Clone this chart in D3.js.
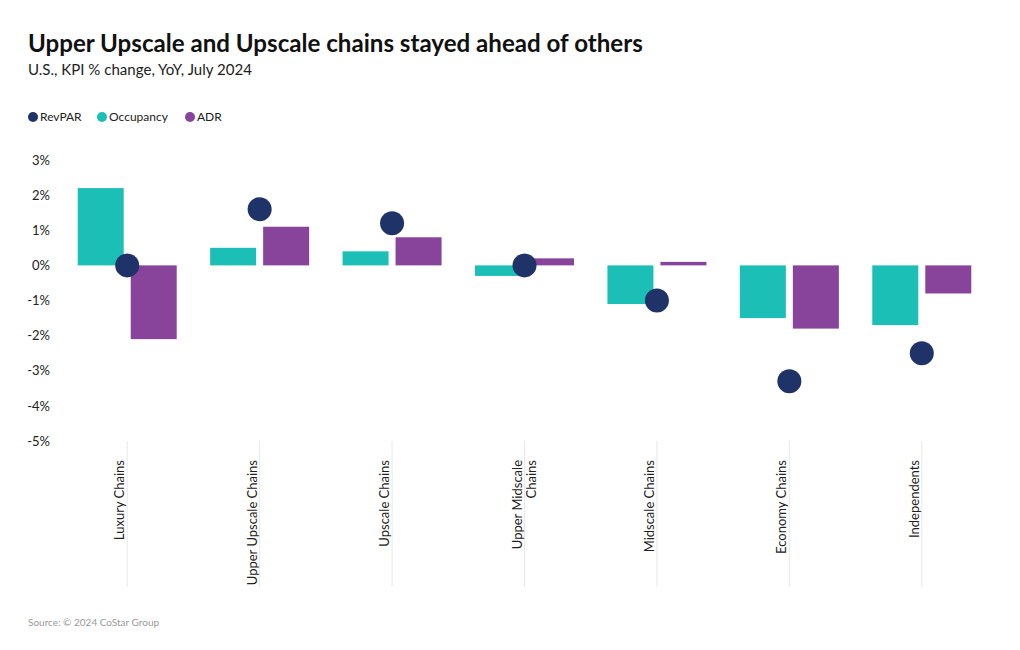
<!DOCTYPE html>
<html>
<head>
<meta charset="utf-8">
<script src="https://cdn.jsdelivr.net/npm/d3@7"></script>
<style>
  html, body { margin: 0; padding: 0; background: #fff; }
  svg { display: block; font-family: Lato, "Source Sans Pro", sans-serif; }
</style>
</head>
<body>
<svg id="chart" width="1020" height="650"></svg>
<script>
const categories = ["Luxury Chains", "Upper Upscale Chains", "Upscale Chains", "Upper Midscale Chains", "Midscale Chains", "Economy Chains", "Independents"];
const revpar    = [0.0, 1.6, 1.2, 0.0, -1.0, -3.3, -2.5];
const occupancy = [2.2, 0.5, 0.4, -0.3, -1.1, -1.5, -1.7];
const adr       = [-2.1, 1.1, 0.8, 0.2, 0.1, -1.8, -0.8];
const yTicks = [3, 2, 1, 0, -1, -2, -3, -4, -5];
const labelLines = [["Luxury Chains"], ["Upper Upscale Chains"], ["Upscale Chains"], ["Upper Midscale", "Chains"], ["Midscale Chains"], ["Economy Chains"], ["Independents"]];

const colors = { revpar: "#1f3368", occ: "#1bbfb5", adr: "#87449a" };

const svg = d3.select("#chart");

// Title
const title = svg.append("text").attr("x", 28).attr("y", 52)
  .attr("font-weight", 700).attr("font-size", 24).attr("fill", "#111")
  .text("Upper Upscale and Upscale chains stayed ahead of others");
const tw = title.node().getComputedTextLength();
title.attr("font-size", 24 * 615 / tw);

const sub = svg.append("text").attr("x", 28).attr("y", 75)
  .attr("font-size", 15).attr("fill", "#222")
  .text("U.S., KPI % change, YoY, July 2024");
const sw = sub.node().getComputedTextLength();
sub.attr("font-size", 15 * 224 / sw);

// Legend
const legend = [["RevPAR", colors.revpar, 33], ["Occupancy", colors.occ, 102], ["ADR", colors.adr, 190]];
legend.forEach(([name, c, x]) => {
  svg.append("circle").attr("cx", x).attr("cy", 117).attr("r", 5).attr("fill", c);
  svg.append("text").attr("x", x + 7).attr("y", 121).attr("font-size", 12).attr("fill", "#222").text(name);
});

// Scales
const y = d3.scaleLinear().domain([-5, 3]).range([441, 160]);
const x = d3.scaleBand().domain(categories).range([61, 988]).paddingInner(0).paddingOuter(0);
const barW = 46, gap = 7;

// Y axis labels
const yAxis = d3.axisLeft(y).tickValues(yTicks).tickFormat(d => d + "%").tickSize(0).tickPadding(0);
const gy = svg.append("g").attr("transform", "translate(50,0)").call(yAxis);
gy.select(".domain").remove();
gy.selectAll("text").attr("font-size", 13).attr("fill", "#222").attr("font-family", "Lato, sans-serif");

// X axis: vertical tick lines + rotated labels
const gx = svg.append("g");
categories.forEach((c, i) => {
  const cx = x(c) + x.bandwidth() / 2;
  gx.append("line").attr("x1", cx).attr("x2", cx).attr("y1", 441).attr("y2", 587)
    .attr("stroke", "#e8e8e8").attr("stroke-width", 1);
  const lines = labelLines[i];
  const t = gx.append("text").attr("transform", `translate(${cx},460) rotate(-90)`)
    .attr("text-anchor", "end").attr("font-size", 13).attr("fill", "#222");
  if (lines.length === 1) {
    t.append("tspan").attr("x", 0).attr("y", -3).text(lines[0]);
  } else {
    t.append("tspan").attr("x", 0).attr("y", -3).text(lines[0]);
    t.append("tspan").attr("x", 0).attr("y", 11).text(lines[1]);
  }
});

// Bars
const y0 = y(0);
const g = svg.append("g");
g.selectAll("rect.occ").data(categories).enter().append("rect")
  .attr("x", c => x(c) + x.bandwidth() / 2 - gap / 2 - barW)
  .attr("width", barW)
  .attr("y", (c, i) => Math.min(y(occupancy[i]), y0))
  .attr("height", (c, i) => Math.abs(y(occupancy[i]) - y0))
  .attr("fill", colors.occ);
g.selectAll("rect.adr").data(categories).enter().append("rect")
  .attr("x", c => x(c) + x.bandwidth() / 2 + gap / 2)
  .attr("width", barW)
  .attr("y", (c, i) => Math.min(y(adr[i]), y0))
  .attr("height", (c, i) => Math.abs(y(adr[i]) - y0))
  .attr("fill", colors.adr);

// RevPAR dots
g.selectAll("circle.rev").data(categories).enter().append("circle")
  .attr("cx", c => x(c) + x.bandwidth() / 2)
  .attr("cy", (c, i) => y(revpar[i]))
  .attr("r", 12)
  .attr("fill", colors.revpar);

// Source
svg.append("text").attr("x", 28).attr("y", 626).attr("font-size", 10).attr("fill", "#999")
  .text("Source: © 2024 CoStar Group");
</script>
</body>
</html>
